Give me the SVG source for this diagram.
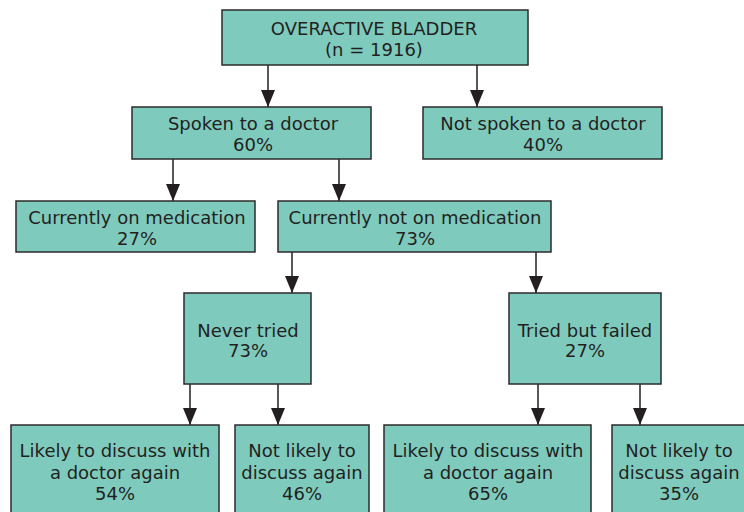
<svg xmlns="http://www.w3.org/2000/svg" width="744" height="512" viewBox="0 0 744 512">
<defs>
<style>
.box{fill:#7ecbbe;stroke:#2b2b2b;stroke-width:1.5}
.t{font-family:"DejaVu Sans","Liberation Sans",sans-serif;font-size:18px;fill:#231f20;text-anchor:middle}
.c{stroke:#231f20;stroke-width:1.5;fill:none}
</style>
<marker id="ah" viewBox="0 0 17 14" refX="17" refY="7" markerWidth="17" markerHeight="14" markerUnits="userSpaceOnUse" orient="auto">
<path d="M0,0 L17,7 L0,14 z" fill="#231f20"/>
</marker>
</defs>
<rect width="744" height="512" fill="#ffffff"/>
<g id="connectors">
<path class="c" d="M268,65 V107" marker-end="url(#ah)"/>
<path class="c" d="M477,65 V107" marker-end="url(#ah)"/>
<path class="c" d="M173,159 V201" marker-end="url(#ah)"/>
<path class="c" d="M339,159 V201" marker-end="url(#ah)"/>
<path class="c" d="M292,252 V293" marker-end="url(#ah)"/>
<path class="c" d="M536,252 V293" marker-end="url(#ah)"/>
<path class="c" d="M190,384 V425" marker-end="url(#ah)"/>
<path class="c" d="M278,384 V425" marker-end="url(#ah)"/>
<path class="c" d="M538,384 V425" marker-end="url(#ah)"/>
<path class="c" d="M640,384 V425" marker-end="url(#ah)"/>
</g>
<g id="oab">
<rect class="box" x="222" y="10" width="306" height="55"/>
<text class="t" x="374" y="35">OVERACTIVE BLADDER</text>
<text class="t" x="374" y="56">(n = 1916)</text>
</g>
<g id="spoken">
<rect class="box" x="132" y="107" width="239" height="52"/>
<text class="t" x="253" y="130">Spoken to a doctor</text>
<text class="t" x="253" y="151">60%</text>
</g>
<g id="notspoken">
<rect class="box" x="423" y="107" width="239" height="52"/>
<text class="t" x="543" y="130">Not spoken to a doctor</text>
<text class="t" x="543" y="151">40%</text>
</g>
<g id="onmed">
<rect class="box" x="16" y="201" width="239" height="51"/>
<text class="t" x="137" y="224">Currently on medication</text>
<text class="t" x="137" y="245">27%</text>
</g>
<g id="notonmed">
<rect class="box" x="278" y="201" width="273" height="51"/>
<text class="t" x="415" y="224">Currently not on medication</text>
<text class="t" x="415" y="245">73%</text>
</g>
<g id="nevertried">
<rect class="box" x="184" y="293" width="127" height="91"/>
<text class="t" x="248" y="337">Never tried</text>
<text class="t" x="248" y="357">73%</text>
</g>
<g id="triedfailed">
<rect class="box" x="509" y="293" width="152" height="91"/>
<text class="t" x="585" y="337">Tried but failed</text>
<text class="t" x="585" y="357">27%</text>
</g>
<g id="likely1">
<rect class="box" x="11" y="425" width="208" height="100"/>
<text class="t" x="115" y="457">Likely to discuss with</text>
<text class="t" x="115" y="479">a doctor again</text>
<text class="t" x="115" y="500">54%</text>
</g>
<g id="notlikely1">
<rect class="box" x="235" y="425" width="134" height="100"/>
<text class="t" x="302" y="457">Not likely to</text>
<text class="t" x="302" y="479">discuss again</text>
<text class="t" x="302" y="500">46%</text>
</g>
<g id="likely2">
<rect class="box" x="384" y="425" width="207" height="100"/>
<text class="t" x="488" y="457">Likely to discuss with</text>
<text class="t" x="488" y="479">a doctor again</text>
<text class="t" x="488" y="500">65%</text>
</g>
<g id="notlikely2">
<rect class="box" x="612" y="425" width="140" height="100"/>
<text class="t" x="679" y="457">Not likely to</text>
<text class="t" x="679" y="479">discuss again</text>
<text class="t" x="679" y="500">35%</text>
</g>
</svg>
